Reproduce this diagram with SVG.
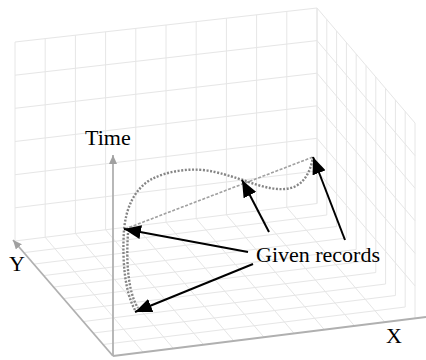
<svg xmlns="http://www.w3.org/2000/svg" width="426" height="360" viewBox="0 0 426 360">
  <style>
    .grid { stroke: #e6e6e6; stroke-width: 1; fill: none; }
    .axis { stroke: #b0b0b0; stroke-width: 1.8; fill: none; }
    .trace { stroke: #858585; stroke-width: 2.4; fill: none; stroke-dasharray: 2 1.6; }
    .chord { stroke: #a0a0a0; stroke-width: 1.6; fill: none; stroke-dasharray: 3 1.6; }
    .pointer { stroke: #000; stroke-width: 2; fill: none; }
    .label { font-family: "Liberation Serif", "Times New Roman", serif; font-size: 22px; fill: #000; }
  </style>
  <defs>
    <marker id="head" markerUnits="userSpaceOnUse" markerWidth="18" markerHeight="14" refX="17" refY="7" orient="auto">
      <path d="M0,0 L17,7 L0,14 z" fill="#000"/>
    </marker>
    <marker id="axisHead" markerUnits="userSpaceOnUse" markerWidth="10" markerHeight="10" refX="9" refY="4" orient="auto">
      <path d="M0,0 L9,4 L0,8 z" fill="#a0a0a0"/>
    </marker>
  </defs>

  <rect width="426" height="360" fill="#fff"/>

  <!-- back wall (X-Time plane) -->
  <g id="back-wall" class="grid">
    <path d="M15,241 L15,42 M45.2,237.25 L45.2,38.6 M75.4,233.5 L75.4,35.2 M105.6,229.75 L105.6,31.8 M135.8,226 L135.8,28.4 M166,222.25 L166,25 M196.2,218.5 L196.2,21.6 M226.4,214.75 L226.4,18.2 M256.6,211 L256.6,14.8 M286.8,207.25 L286.8,11.4 M317,203.5 L317,8"/>
    <path d="M15,241 L317,203.5 M15,207.8 L317,170.9 M15,174.7 L317,138.3 M15,141.5 L317,105.8 M15,108.3 L317,73.2 M15,75.2 L317,40.6 M15,42 L317,8"/>
  </g>

  <!-- right wall (Y-Time plane) -->
  <g id="side-wall" class="grid">
    <path d="M317,203.5 L317,8 M326.8,215 L326.8,19.5 M336.6,226.5 L336.6,31 M346.4,238 L346.4,42.5 M356.2,249.5 L356.2,54 M366,261 L366,65.5 M375.8,272.5 L375.8,77 M385.6,284 L385.6,88.5 M395.4,295.5 L395.4,100 M405.2,307 L405.2,111.5 M415,318.5 L415,123"/>
    <path d="M317,170.9 L415,285.9 M317,138.3 L415,253.3 M317,105.8 L415,220.8 M317,73.2 L415,188.2 M317,40.6 L415,155.6 M317,8 L415,123"/>
  </g>

  <!-- floor (X-Y plane) -->
  <g id="floor" class="grid">
    <path d="M103.2,344.5 L405.2,307 M93.4,333 L395.4,295.5 M83.6,321.5 L385.6,284 M73.8,310 L375.8,272.5 M64,298.5 L366,261 M54.2,287 L356.2,249.5 M44.4,275.5 L346.4,238 M34.6,264 L336.6,226.5 M24.8,252.5 L326.8,215"/>
    <path d="M143.2,352.25 L45.2,237.25 M173.4,348.5 L75.4,233.5 M203.6,344.75 L105.6,229.75 M233.8,341 L135.8,226 M264,337.25 L166,222.25 M294.2,333.5 L196.2,218.5 M324.4,329.75 L226.4,214.75 M354.6,326 L256.6,211 M384.8,322.25 L286.8,207.25"/>
  </g>

  <!-- coordinate axes -->
  <g id="axes">
    <line class="axis" x1="113" y1="356" x2="113" y2="155" marker-end="url(#axisHead)"/>
    <line class="axis" x1="113" y1="356" x2="13" y2="240" marker-end="url(#axisHead)"/>
    <line class="axis" x1="113" y1="356" x2="426" y2="317"/>
  </g>

  <!-- trajectory through the records -->
  <g id="trajectory">
    <path class="chord" d="M125,229 L313,157"/>
    <path class="trace" d="M135,310 C125,292 122,262 124,230 C126,208 134,190 150,180 C168,170 195,167 215,172 C228,175 236,178 243,180 C262,187 282,193 296,186 C307,180 311,168 313,157"/>
    <path class="trace" d="M128,233 C126,262 128,292 138,308"/>
  </g>

  <!-- pointers from the caption to the records -->
  <g id="connectors">
    <line class="pointer" x1="248" y1="252" x2="124" y2="229" marker-end="url(#head)"/>
    <line class="pointer" x1="253" y1="264" x2="135" y2="312" marker-end="url(#head)"/>
    <line class="pointer" x1="269" y1="232" x2="242" y2="180" marker-end="url(#head)"/>
    <line class="pointer" x1="345" y1="240" x2="313" y2="157" marker-end="url(#head)"/>
  </g>

  <g id="labels">
    <text class="label" x="85" y="145">Time</text>
    <text class="label" x="9" y="271">Y</text>
    <text class="label" x="386" y="343">X</text>
    <text class="label" x="256" y="262">Given records</text>
  </g>
</svg>
